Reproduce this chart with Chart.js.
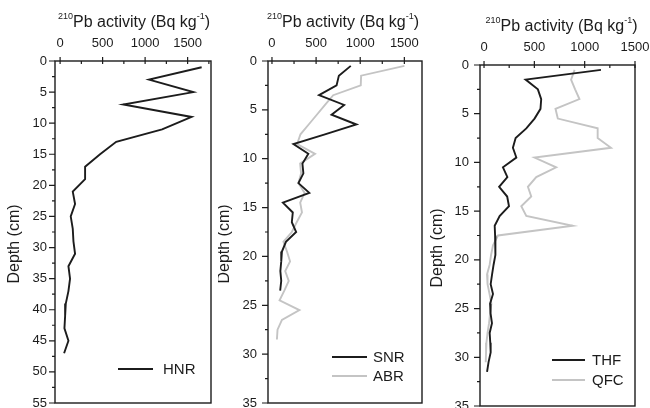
<!DOCTYPE html>
<html>
<head>
<meta charset="utf-8">
<script src="https://cdn.jsdelivr.net/npm/chart.js@4.4.1/dist/chart.umd.min.js"></script>
<style>
html,body{margin:0;padding:0;background:#fff;overflow:hidden;width:650px;height:408px;}
canvas{position:absolute;top:0;}
</style>
</head>
<body>
<canvas id="c1" width="217" height="408" style="left:0px"></canvas>
<canvas id="c2" width="210" height="408" style="left:218px"></canvas>
<canvas id="c3" width="220" height="408" style="left:430px"></canvas>
<script>
// ---------- data (depth in cm, 210Pb activity in Bq/kg) ----------
const hnrDepth    = [1,3,5,7,9,11,13,15,17,19,21,23,25,27,29,31,33,35,37,39,41,43,45,47];
const hnrActivity = [1665,1046,1567,744,1547,1200,660,470,294,294,149,176,125,149,157,176,98,117,98,67,59,51,98,47];

const snrDepth    = [0.5,1.5,2.5,3.5,4.5,5.5,6.5,7.5,8.5,9.5,10.5,11.5,12.5,13.5,14.5,15.5,16.5,17.5,18.5,19.5,20.5,21.5,22.5,23.5];
const snrActivity = [893,758,732,533,818,675,957,600,243,412,345,356,300,423,124,236,225,274,158,113,105,95,105,93];

const abrDepth    = [0.5,1.5,2.5,3.5,4.5,5.5,6.5,7.5,8.5,9.5,10.5,11.5,12.5,13.5,14.5,15.5,16.5,17.5,18.5,19.5,20.5,21.5,22.5,23.5,24.5,25.5,26.5,27.5,28.5];
const abrActivity = [1501,1010,1006,694,601,508,416,323,285,488,319,330,300,370,320,340,280,225,130,170,205,150,190,140,86,311,113,63,56];

const thfDepth    = [0.5,1.5,2.5,3.5,4.5,5.5,6.5,7.5,8.5,9.5,10.5,11.5,12.5,13.5,14.5,15.5,16.5,17.5,18.5,19.5,20.5,21.5,22.5,23.5,24.5,25.5,26.5,27.5,28.5,29.5,30.5,31.5];
const thfActivity = [1162,413,535,568,561,502,420,314,287,321,188,232,150,230,248,155,106,110,116,110,95,80,66,89,60,65,79,56,62,66,45,30];

const qfcDepth    = [0.5,1.5,2.5,3.5,4.5,5.5,6.5,7.5,8.5,9.5,10.5,11.5,12.5,13.5,14.5,15.5,16.5,17.5,18.5,19.5,20.5,21.5,22.5,23.5,24.5,25.5,26.5,27.5,28.5,29.5,30.5];
const qfcActivity = [900,865,905,948,710,733,1129,1129,1261,502,717,519,436,469,370,420,881,139,89,70,56,30,35,55,73,60,50,35,24,20,17];

// tick values
const activityTicks1 = [0,250,500,750,1000,1250,1500,1750];
const activityTicks2 = [0,250,500,750,1000,1250,1500];
const activityTicks3 = [0,250,500,750,1000,1250,1500];
const depthTicks55 = [0,2.5,5,7.5,10,12.5,15,17.5,20,22.5,25,27.5,30,32.5,35,37.5,40,42.5,45,47.5,50,52.5,55];
const depthTicks35 = [0,2.5,5,7.5,10,12.5,15,17.5,20,22.5,25,27.5,30,32.5,35];

// text
const titleParts = [{t:'210', sup:true}, {t:'Pb activity (Bq kg'}, {t:'-1', sup:true}, {t:')'}];
const depthTitle = 'Depth (cm)';

// ---------- styling ----------
const FONT = "'Liberation Sans', Arial, Helvetica, sans-serif";
const INK = '#1c1c1c';
const GRAY = '#c4c4c4';

const deco = {
  id: 'deco',
  afterDraw(chart, args, o) {
    const ctx = chart.ctx, a = chart.chartArea, xs = chart.scales.x, ys = chart.scales.y;
    ctx.save();
    ctx.strokeStyle = INK; ctx.lineWidth = 1.2;
    ctx.beginPath();
    xs.ticks.forEach(t => {
      const p = xs.getPixelForValue(t.value);
      if (t.value % 500 === 0) { ctx.moveTo(p, a.top - 4); ctx.lineTo(p, a.top + 3); }
      else { ctx.moveTo(p, a.top); ctx.lineTo(p, a.top + 3); }
    });
    ys.ticks.forEach(t => {
      const p = ys.getPixelForValue(t.value);
      const L = (t.value % 5 === 0) ? 6 : 3;
      ctx.moveTo(a.left - L, p); ctx.lineTo(a.left, p);
    });
    ctx.stroke();
    ctx.lineWidth = 1.4;
    ctx.strokeRect(a.left, a.top, a.right - a.left, a.bottom - a.top);

    // top axis title with superscripts
    ctx.fillStyle = INK;
    ctx.textBaseline = 'alphabetic';
    ctx.textAlign = 'left';
    const fMain = '16px ' + FONT, fSup = '9px ' + FONT;
    let total = 0;
    titleParts.forEach(p => { ctx.font = p.sup ? fSup : fMain; total += ctx.measureText(p.t).width; });
    let x = (a.left + a.right) / 2 + o.titleDx - total / 2;
    const base = a.top - 34;
    titleParts.forEach(p => {
      ctx.font = p.sup ? fSup : fMain;
      ctx.fillText(p.t, x, p.sup ? base - 8 : base);
      x += ctx.measureText(p.t).width;
    });

    // left axis title
    ctx.save();
    ctx.translate(o.yTitleX, o.yTitleY);
    ctx.rotate(-Math.PI / 2);
    ctx.font = '16px ' + FONT;
    ctx.textAlign = 'center';
    ctx.textBaseline = 'middle';
    ctx.fillText(depthTitle, 0, 0);
    ctx.restore();

    // legend
    ctx.font = '15px ' + FONT;
    ctx.textAlign = 'left';
    ctx.textBaseline = 'middle';
    chart.data.datasets.forEach((ds, i) => {
      const y = o.legend.ys[i];
      ctx.strokeStyle = ds.borderColor; ctx.lineWidth = 1.9;
      ctx.beginPath(); ctx.moveTo(o.legend.x1, y); ctx.lineTo(o.legend.x2, y); ctx.stroke();
      ctx.fillStyle = INK;
      ctx.fillText(ds.label, o.legend.tx, y + 0.5);
    });
    ctx.restore();
  }
};

function panel(id, o) {
  return new Chart(document.getElementById(id), {
    type: 'scatter',
    data: {
      datasets: o.series.map(s => ({
        label: s.label,
        data: s.depth.map((d, i) => ({x: s.values[i], y: d})),
        showLine: true, borderColor: s.color, backgroundColor: s.color,
        borderWidth: 1.9, pointRadius: 0, pointHoverRadius: 0, tension: 0, fill: false
      }))
    },
    options: {
      responsive: false, animation: false, devicePixelRatio: 1, events: [],
      layout: { padding: o.padding },
      plugins: { legend: {display: false}, tooltip: {enabled: false}, title: {display: false}, deco: o.deco },
      scales: {
        x: {
          type: 'linear', position: 'top', min: o.xMin, max: o.xMax,
          afterBuildTicks: s => { s.ticks = o.xTicks.map(v => ({value: v})); },
          afterFit: s => { s.height = o.xAxisH; s.paddingLeft = 0; s.paddingRight = 0; },
          grid: {display: false, drawTicks: false}, border: {display: false},
          ticks: { autoSkip: false, maxRotation: 0, minRotation: 0, padding: 10, color: INK,
                   font: {family: FONT, size: 13},
                   callback: v => (v % 500 === 0 ? String(v) : '') }
        },
        y: {
          type: 'linear', position: 'left', reverse: true, min: 0, max: o.yMax,
          afterBuildTicks: s => { s.ticks = o.yTicks.map(v => ({value: v})); },
          afterFit: s => { s.width = o.yAxisW; s.paddingTop = 0; s.paddingBottom = 0; },
          grid: {display: false, drawTicks: false}, border: {display: false},
          ticks: { autoSkip: false, padding: o.yPad, color: INK,
                   font: {family: FONT, size: 13},
                   callback: v => (v % 5 === 0 ? String(v) : '') }
        }
      }
    },
    plugins: [deco]
  });
}

panel('c1', {
  series: [{label: 'HNR', depth: hnrDepth, values: hnrActivity, color: INK}],
  xMin: -60, xMax: 1775, yMax: 55, xTicks: activityTicks1, yTicks: depthTicks55,
  xAxisH: 61, yAxisW: 55, yPad: 8, padding: {left: 0, top: 0, right: 6, bottom: 5},
  deco: { titleDx: 1, yTitleX: 15, yTitleY: 244, legend: {x1: 118, x2: 153, tx: 163, ys: [369]} }
});

panel('c2', {
  series: [{label: 'SNR', depth: snrDepth, values: snrActivity, color: INK},
           {label: 'ABR', depth: abrDepth, values: abrActivity, color: GRAY}],
  xMin: -45, xMax: 1700, yMax: 35, xTicks: activityTicks2, yTicks: depthTicks35,
  xAxisH: 61, yAxisW: 50, yPad: 11, padding: {left: 0, top: 0, right: 6, bottom: 5},
  deco: { titleDx: -2, yTitleX: 7, yTitleY: 244, legend: {x1: 114, x2: 149, tx: 155, ys: [357, 376]} }
});

panel('c3', {
  series: [{label: 'THF', depth: thfDepth, values: thfActivity, color: INK},
           {label: 'QFC', depth: qfcDepth, values: qfcActivity, color: GRAY}],
  xMin: -40, xMax: 1500, yMax: 35, xTicks: activityTicks3, yTicks: depthTicks35,
  xAxisH: 65, yAxisW: 50, yPad: 11, padding: {left: 0, top: 0, right: 15, bottom: 2},
  deco: { titleDx: 4, yTitleX: 7.5, yTitleY: 248, legend: {x1: 122, x2: 155, tx: 162, ys: [360, 380]} }
});
</script>
</body>
</html>
